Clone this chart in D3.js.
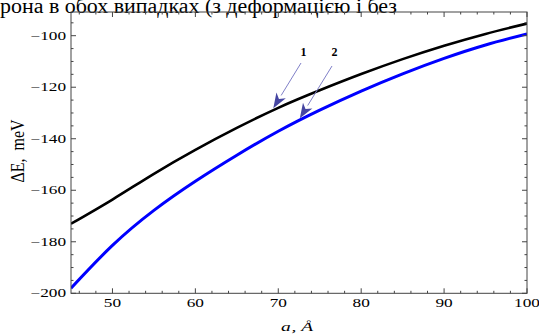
<!DOCTYPE html>
<html>
<head>
<meta charset="utf-8">
<title>dE vs a</title>
<script src="https://cdn.jsdelivr.net/npm/d3@7"></script>
<style type="text/css">
    body{ margin:0; background:#fff; }
    svg{ display:block; }
    text{ font-family:"Liberation Serif", "Times New Roman", serif; }
</style>
</head>
<body>
<svg id="chart" width="539" height="334"></svg>

<script type="text/javascript">

// values
var aValues   = [45, 50, 55, 60, 65, 70, 75, 80, 85, 90, 95, 100];
var curve1    = [-173, -163.6, -153.6, -144.3, -135.8, -128.0, -121.2, -114.9, -109.1, -103.9, -99.3, -95.3];
var curve2    = [-198, -181.4, -167.8, -156.5, -146.4, -137.1, -128.9, -121.5, -114.8, -108.8, -103.6, -99.3];
var xTicks    = [50, 60, 70, 80, 90, 100];
var yTicks    = [-200, -180, -160, -140, -120, -100];
var captions  = ["1", "2"];
var headText  = "рона в обох випадках (з деформацією і без";

// plot box (note: "top" is taken by window.top)
var pL = 71, pR = 527, pT = 12, pB = 293.3;

var svg = d3.select('#chart');

var x = d3.scaleLinear().domain([45, 100]).range([pL, pR]);
var y = d3.scaleLinear().domain([-200, -90.8]).range([pB, pT]);

// the line of document text cut off at the top
svg.append('text')
    .attr('x', 0)
    .attr('y', 12.5)
    .attr('font-size', 20)
    .attr('textLength', 397)
    .attr('lengthAdjust', 'spacingAndGlyphs')
    .attr('fill', '#000')
    .text(headText);

svg.append('clipPath').attr('id', 'plot')
    .append('rect')
    .attr('x', pL).attr('y', pT)
    .attr('width', pR - pL).attr('height', pB - pT);

// curves
var line = d3.line()
    .x(function(d){ return x(d[0]) })
    .y(function(d){ return y(d[1]) })
    .curve(d3.curveNatural);

var series = [
    {vals: curve1, color: '#000', w: 2.6},
    {vals: curve2, color: '#0000ff', w: 3}
];

series.forEach(function(s){
    svg.append('path')
        .datum(d3.zip(aValues, s.vals))
        .attr('clip-path', 'url(#plot)')
        .attr('fill', 'none')
        .attr('stroke', s.color)
        .attr('stroke-width', s.w)
        .attr('stroke-linejoin', 'round')
        .attr('d', line);
});

// frame + inward ticks on all four sides
var frame = '#444';

function minor(lo, hi, step){
    return d3.range(lo, hi + step / 2, step);
}

var xMinor = minor(46, 100, 2).filter(function(v){ return xTicks.indexOf(v) < 0 });
var yMinor = minor(-195, -95, 5).filter(function(v){ return yTicks.indexOf(v) < 0 });

var axes = svg.append('g').attr('stroke', frame).attr('stroke-width', 1);

function xTick(v, len){
    axes.append('line').attr('x1', x(v)).attr('x2', x(v)).attr('y1', pB).attr('y2', pB - len);
    axes.append('line').attr('x1', x(v)).attr('x2', x(v)).attr('y1', pT).attr('y2', pT + len);
}
function yTick(v, len){
    axes.append('line').attr('y1', y(v)).attr('y2', y(v)).attr('x1', pL).attr('x2', pL + len);
    axes.append('line').attr('y1', y(v)).attr('y2', y(v)).attr('x1', pR).attr('x2', pR - len);
}
xTicks.forEach(function(v){ xTick(v, 5) });
xMinor.forEach(function(v){ xTick(v, 2.5) });
yTicks.forEach(function(v){ yTick(v, 5) });
yMinor.forEach(function(v){ yTick(v, 2.5) });

axes.append('rect')
    .attr('x', pL).attr('y', pT)
    .attr('width', pR - pL).attr('height', pB - pT)
    .attr('fill', 'none');

// tick labels (the figure is stretched sideways, so the glyphs are too)
var stretch = 1.5;

xTicks.forEach(function(v){
    svg.append('g')
        .attr('transform', 'translate(' + x(v) + ',306.5)')
        .append('text')
        .attr('transform', 'scale(' + stretch + ',1)')
        .attr('text-anchor', 'middle')
        .attr('font-size', 11.5)
        .text(v);
});

yTicks.forEach(function(v){
    svg.append('g')
        .attr('transform', 'translate(66,' + (y(v) + 3.9) + ')')
        .append('text')
        .attr('transform', 'scale(' + stretch + ',1)')
        .attr('text-anchor', 'end')
        .attr('font-size', 11.5)
        .text('\u2212' + Math.abs(v));
});

// axis titles
var xt = svg.append('g')
    .attr('transform', 'translate(' + ((pL + pR) / 2 - 2) + ',331)')
    .append('text')
    .attr('transform', 'scale(' + stretch + ',1)')
    .attr('text-anchor', 'middle')
    .attr('font-size', 13)
    .attr('font-style', 'italic');
xt.append('tspan').text('a');
xt.append('tspan').attr('dx', 0.5).text(', Å');

svg.append('g')
    .attr('transform', 'translate(23.5,151) rotate(-90)')
    .append('text')
    .attr('transform', 'scale(1,1.2)')
    .attr('text-anchor', 'middle')
    .attr('font-size', 16)
    .attr('xml:space', 'preserve')
    .text('\u0394E,  meV');

// arrows pointing at the curves
function valueAt(vals, a){
    return d3.scaleLinear().domain(aValues).range(vals)(a);
}

var notes = [
    {label: captions[0], vals: curve1, a: 69.4, tail: [301, 63], lx: 303.5},
    {label: captions[1], vals: curve2, a: 72.6, tail: [332, 66], lx: 334.5}
];

notes.forEach(function(n){
    var tx = x(n.a), ty = y(valueAt(n.vals, n.a)) - 2;
    var dx = tx - n.tail[0], dy = ty - n.tail[1];
    var len = Math.sqrt(dx * dx + dy * dy);
    var ux = dx / len, uy = dy / len;
    var head = 15, half = 5.5;
    var bx = tx - ux * head, by = ty - uy * head;

    svg.append('line')
        .attr('x1', n.tail[0]).attr('y1', n.tail[1])
        .attr('x2', bx).attr('y2', by)
        .attr('stroke', '#8080c8')
        .attr('stroke-width', 1);

    svg.append('path')
        .attr('d', 'M' + tx + ',' + ty +
                   'L' + (bx - uy * half) + ',' + (by + ux * half) +
                   'L' + (tx - ux * head * 0.72) + ',' + (ty - uy * head * 0.72) +
                   'L' + (bx + uy * half) + ',' + (by - ux * half) + 'Z')
        .attr('fill', '#4646a2');

    svg.append('text')
        .attr('x', n.lx).attr('y', 56)
        .attr('text-anchor', 'middle')
        .attr('font-size', 12)
        .attr('font-weight', 'bold')
        .text(n.label);
});

</script>
</body>
</html>
